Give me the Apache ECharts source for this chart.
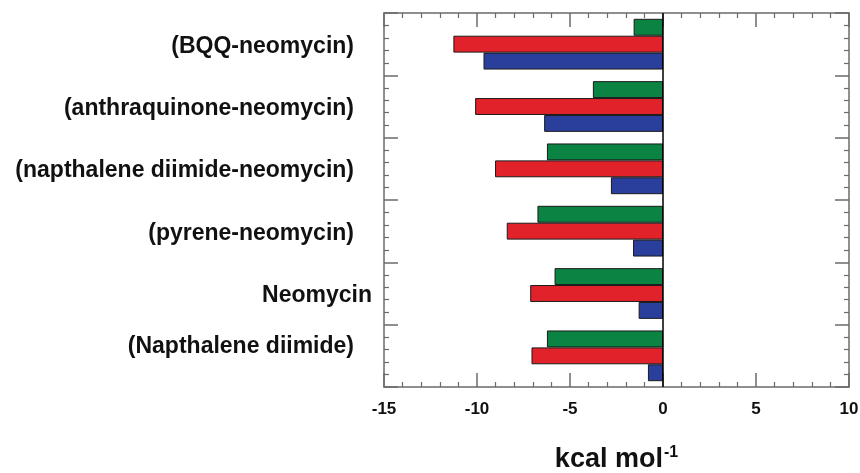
<!DOCTYPE html>
<html>
<head>
<meta charset="utf-8">
<script src="https://cdn.jsdelivr.net/npm/echarts@6/dist/echarts.min.js"></script>
<style>html,body{margin:0;padding:0;background:#fff}#c{width:860px;height:473px}</style>
</head>
<body>
<div id="c"></div>
<script>
// categories, top to bottom
var categories = ['(BQQ-neomycin)', '(anthraquinone-neomycin)', '(napthalene diimide-neomycin)', '(pyrene-neomycin)', 'Neomycin', '(Napthalene diimide)'];
// values in kcal/mol
var greenValues = [-1.58, -3.77, -6.24, -6.75, -5.83, -6.24];
var redValues   = [-11.27, -10.1, -9.03, -8.4, -7.14, -7.07];
var blueValues  = [-9.65, -6.39, -2.8, -1.61, -1.31, -0.81];
var xTicks = [-15, -10, -5, 0, 5, 10];

var FONT = "'Liberation Sans', Arial, Helvetica, sans-serif";
var frame = '#6b6b6b';
var chart = echarts.init(document.getElementById('c'), null, {renderer: 'canvas'});

function frameY(pos) {
  return {
    type: 'value', position: pos, min: 0, max: categories.length, interval: 1,
    axisLine: {show: true, onZero: false, lineStyle: {color: frame, width: 1.5}},
    axisTick: {show: true, inside: true, length: 14, lineStyle: {color: frame, width: 1.5}},
    minorTick: {show: true, splitNumber: 5, length: 5, lineStyle: {color: frame, width: 1.2}},
    axisLabel: {show: false}, splitLine: {show: false}, minorSplitLine: {show: false}
  };
}
function frameX(pos, showLabel) {
  return {
    type: 'value', position: pos, min: xTicks[0], max: xTicks[xTicks.length - 1], interval: 5,
    axisLine: {show: true, onZero: false, lineStyle: {color: frame, width: 1.5}},
    axisTick: {show: true, inside: true, length: 14, lineStyle: {color: frame, width: 1.5}},
    minorTick: {show: true, splitNumber: 5, length: 5, lineStyle: {color: frame, width: 1.2}},
    axisLabel: {show: showLabel, color: '#111', fontFamily: FONT, fontWeight: 'bold', fontSize: 17, margin: 14},
    splitLine: {show: false}
  };
}

var bottomX = frameX('bottom', true);
bottomX.name = '{a|kcal mol}{b|-1}';
bottomX.nameLocation = 'middle';
bottomX.nameGap = 58;
bottomX.nameTextStyle = {
  rich: {
    a: {fontFamily: FONT, fontWeight: 'bold', fontSize: 27, color: '#111', verticalAlign: 'bottom'},
    b: {fontFamily: FONT, fontWeight: 'bold', fontSize: 16, color: '#111', verticalAlign: 'top', padding: [0, 0, 12, 1]}
  }
};

var option = {
  animation: false,
  backgroundColor: '#fff',
  grid: {left: 384, right: 11, top: 13, bottom: 86, containLabel: false, outerBoundsMode: 'none'},
  xAxis: [bottomX, frameX('top', false)],
  yAxis: [
    {
      type: 'category', data: categories, inverse: true, position: 'left',
      axisLine: {show: false, onZero: false}, axisTick: {show: false},
      axisLabel: {
        margin: 12,
        formatter: function (v) { return v === 'Neomycin' ? '{n|' + v + '}' : (v === '(Napthalene diimide)' ? '{d|' + v + '}' : '{a|' + v + '}'); },
        rich: {
          a: {fontFamily: FONT, fontWeight: 'bold', fontSize: 23, color: '#111', padding: [4, 18, 0, 0]},
          n: {fontFamily: FONT, fontWeight: 'bold', fontSize: 23, color: '#111', padding: [4, 0, 0, 0]},
          d: {fontFamily: FONT, fontWeight: 'bold', fontSize: 23, color: '#111', padding: [0, 18, 18, 0]}
        }
      },
      splitLine: {show: false}
    },
    frameY('left'),
    frameY('right')
  ],
  series: [
    {name: 'green', type: 'bar', xAxisIndex: 0, yAxisIndex: 0, data: greenValues, barGap: '0%', barCategoryGap: '18.6%',
      itemStyle: {color: '#0b8443', borderColor: '#1a1a1a', borderWidth: 1}},
    {name: 'red', type: 'bar', xAxisIndex: 0, yAxisIndex: 0, data: redValues, barGap: '0%', barCategoryGap: '18.6%',
      itemStyle: {color: '#e2222a', borderColor: '#1a1a1a', borderWidth: 1}},
    {name: 'blue', type: 'bar', xAxisIndex: 0, yAxisIndex: 0, data: blueValues, barGap: '0%', barCategoryGap: '18.6%',
      itemStyle: {color: '#2a3f9c', borderColor: '#1a1a1a', borderWidth: 1},
      markLine: {silent: true, symbol: 'none', label: {show: false},
        lineStyle: {color: '#000', width: 1.5, type: 'solid'}, data: [{xAxis: 0}]}}
  ]
};
chart.setOption(option);
</script>
</body>
</html>
